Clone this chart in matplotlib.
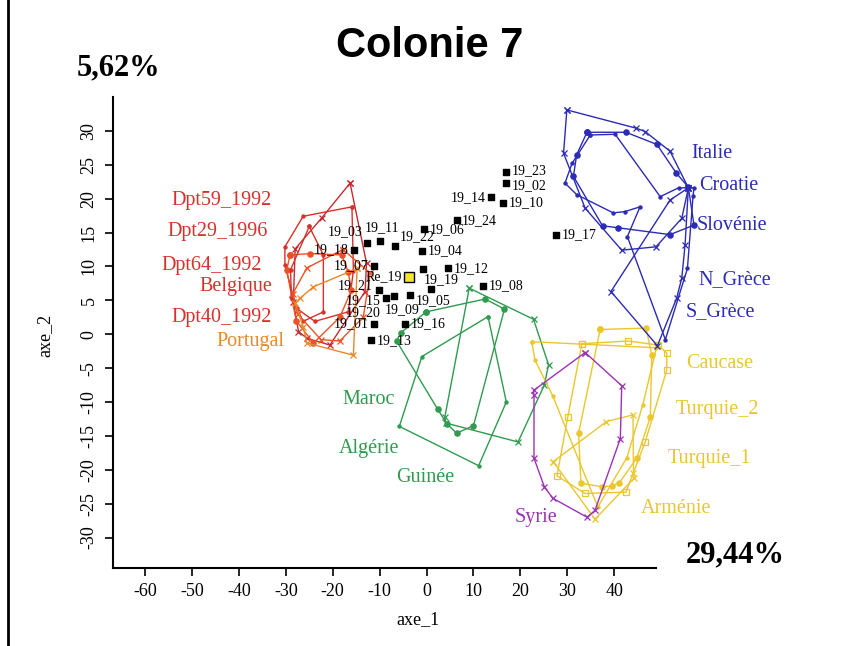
import matplotlib
matplotlib.use("Agg")
import matplotlib.pyplot as plt
from matplotlib.lines import Line2D

# ── Reference individuals (black squares) ─────────────────────────────────────
REF_NAMES = ["19_23", "19_02", "19_14", "19_10", "19_24", "19_06", "19_17",
             "19_03", "19_11", "19_22", "19_18", "19_04", "19_07", "19_19",
             "19_12", "19_08", "19_05", "19_21", "19_15", "19_20", "19_09",
             "19_16", "19_01", "19_13"]
REF_X = [16.9, 16.9, 13.7, 16.3, 6.4, -0.5, 27.6,
         -12.8, -9.9, -6.7, -15.4, -1.0, -11.2, -0.7,
         4.6, 12.0, 1.0, -10.2, -8.6, -6.9, -3.5,
         -4.6, -11.1, -11.8]
REF_Y = [23.9, 22.3, 20.2, 19.4, 16.8, 15.5, 14.7,
         13.5, 13.8, 13.0, 12.5, 12.3, 10.1, 9.6,
         9.7, 7.1, 6.6, 6.5, 5.3, 5.7, 5.8,
         1.5, 1.5, -0.9]
# where each label sits relative to its square
REF_POS = ["ru", "rd", "l", "r", "r", "r", "r",
           "ul", "a", "ur", "l", "r", "l", "br",
           "r", "r", "b", "lu", "ld", "bl2", "bl",
           "r", "l", "r"]
RE19 = (-3.7, 8.5)

# ── Population hulls (axe_1, axe_2) ───────────────────────────────────────────
DPT59 = [(-16.3, 22.3), (-12.8, 10.5), (-13.1, 6.3), (-20.6, -1.6), (-25.5, -0.6),
         (-27.3, 0.4), (-28.4, 4.8), (-28.0, 12.6), (-22.3, 17.2)]
DPT29 = [(-15.9, 18.8), (-15.6, 9.4), (-16.7, 3.3), (-23.8, 1.9), (-27.7, 3.8),
         (-30.2, 10.2), (-30.2, 12.9), (-26.3, 17.4)]
DPT64 = [(-29.1, 11.7), (-24.8, 11.9), (-18.1, 11.7), (-16.7, 9.2), (-16.0, 6.5),
         (-18.5, 2.5), (-24.1, -1.3), (-27.8, 2.0), (-29.8, 9.5)]
BELGIQUE = [(-25.0, 15.9), (-22.0, 11.7), (-22.0, 3.3), (-26.3, 1.9),
            (-28.8, 5.5), (-29.0, 9.5)]
DPT40 = [(-17.8, 12.5), (-12.0, 9.0), (-13.5, 2.5), (-18.5, -1.0), (-22.5, -0.8),
         (-27.5, 3.0), (-28.5, 6.0), (-25.5, 9.8)]
PORTUGAL = [(-14.8, 9.7), (-15.6, -3.1), (-25.5, -1.3), (-26.3, 1.1),
            (-28.0, 4.6), (-27.0, 5.3), (-24.1, 7.0)]

MAROC = [(-0.1, 3.3), (12.5, 5.2), (16.6, 3.7), (10.0, -13.5), (6.4, -14.6),
         (4.3, -13.2), (2.4, -11.1), (-6.4, -1.0), (-5.5, 0.2)]
ALGERIE = [(13.1, 2.6), (17.0, -10.0), (11.1, -19.4), (-5.8, -13.6), (-1.0, -3.3)]
GUINEE = [(9.1, 6.8), (22.8, 2.2), (26.0, -4.5), (25.1, -7.5), (19.5, -15.9),
          (4.1, -13.1), (3.9, -12.2)]

SYRIE = [(33.8, -2.7), (41.6, -7.6), (41.3, -15.4), (35.9, -26.0), (34.2, -27.0),
         (26.9, -24.2), (25.1, -22.5), (22.9, -18.3), (22.9, -9.0), (22.8, -8.3)]

CAUCASE = [(33.1, -1.4), (43.0, -1.0), (49.4, -1.6), (51.2, -2.8), (51.2, -5.3),
           (46.6, -15.9), (42.5, -23.3), (33.8, -23.5), (27.8, -20.9), (30.1, -12.2)]
TURQUIE_2 = [(37.0, 0.7), (46.8, 0.9), (48.0, -3.1), (47.7, -12.2), (44.8, -18.3),
             (41.1, -21.9), (39.5, -22.4), (37.4, -22.5), (32.9, -22.0), (32.4, -14.6)]
TURQUIE_1 = [(22.4, -1.1), (23.1, -3.8), (26.9, -9.1), (36.5, -25.5),
             (42.7, -18.2), (46.1, -10.4), (49.0, -2.0)]
ARMENIE = [(27.0, -18.8), (38.3, -12.9), (44.0, -11.9), (44.1, -20.5),
           (44.3, -21.2), (35.9, -27.3)]

ITALIE = [(29.9, 33.1), (44.7, 30.4), (46.6, 29.9), (51.9, 27.0), (55.8, 21.6),
          (54.4, 17.1), (48.9, 12.9), (41.6, 12.4), (33.8, 18.6), (29.2, 26.7)]
CROATIE = [(34.2, 29.8), (42.5, 29.8), (49.1, 28.0), (53.2, 23.8), (55.8, 21.7),
           (57.0, 16.1), (51.9, 14.7), (40.9, 15.7), (37.5, 16.0), (31.3, 23.3),
           (32.0, 26.5)]
SLOVENIE = [(34.9, 29.4), (40.2, 29.5), (49.8, 20.3), (53.7, 21.6), (57.0, 21.6),
            (56.8, 20.4), (55.6, 9.7), (50.9, -0.8), (42.8, 14.4), (45.5, 18.8),
            (42.3, 18.1), (39.8, 17.9), (32.0, 20.6), (29.5, 22.3), (31.0, 25.2)]
GRECE = [(55.8, 21.6), (55.1, 13.2), (54.4, 8.3), (53.3, 5.3), (49.2, -1.7),
         (39.3, 6.3), (51.9, 19.8)]

# ── Styles ────────────────────────────────────────────────────────────────────
RED, DRED, ORED, ORANGE = "#D8302A", "#C42A30", "#EE5025", "#E8882A"
GREEN, YELLOW, PURPLE, BLUE = "#2E9B4E", "#EBC62C", "#9B32B5", "#2B2BB5"

HULLS = [
    (DPT59, DRED, "x"), (DPT29, RED, "."), (DPT64, ORED, "o"),
    (BELGIQUE, RED, "."), (DPT40, ORED, "x"), (PORTUGAL, ORANGE, "x"),
    (MAROC, GREEN, "o"), (ALGERIE, GREEN, "."), (GUINEE, GREEN, "x"),
    (CAUCASE, YELLOW, "s"), (TURQUIE_2, YELLOW, "o"), (TURQUIE_1, YELLOW, "."),
    (ARMENIE, YELLOW, "x"), (SYRIE, PURPLE, "x"),
    (ITALIE, BLUE, "x"), (CROATIE, BLUE, "o"), (SLOVENIE, BLUE, "."), (GRECE, BLUE, "x"),
]

LABELS = [
    ("Dpt59_1992", -33.0, 19.8, RED, "right"), ("Dpt29_1996", -33.8, 15.1, RED, "right"),
    ("Dpt64_1992", -35.1, 10.1, RED, "right"), ("Belgique", -32.9, 7.1, RED, "right"),
    ("Dpt40_1992", -32.9, 2.4, RED, "right"), ("Portugal", -30.2, -1.1, ORANGE, "right"),
    ("Maroc", -12.3, -9.7, GREEN, "center"), ("Algérie", -12.3, -16.9, GREEN, "center"),
    ("Guinée", -0.3, -21.1, GREEN, "center"), ("Syrie", 23.3, -27.0, PURPLE, "center"),
    ("Arménie", 53.2, -25.7, YELLOW, "center"), ("Turquie_1", 60.2, -18.4, YELLOW, "center"),
    ("Turquie_2", 61.9, -11.1, YELLOW, "center"), ("Caucase", 62.4, -4.3, YELLOW, "center"),
    ("S_Grèce", 62.6, 3.3, BLUE, "center"), ("N_Grèce", 65.6, 8.0, BLUE, "center"),
    ("Slovénie", 65.1, 16.0, BLUE, "center"), ("Croatie", 64.5, 22.0, BLUE, "center"),
    ("Italie", 60.9, 26.6, BLUE, "center"),
]

SERIF = "Liberation Serif"
plt.rcParams.update({"font.family": SERIF, "axes.unicode_minus": False})

fig = plt.figure(figsize=(8.46, 6.46), dpi=100)
ax = fig.add_axes([0.1332, 0.1207, 0.8668, 0.7291])
ax.set_xlim(-66.9, 89.4)
ax.set_ylim(-34.5, 35.0)

for pts, col, mk in HULLS:
    xs = [p[0] for p in pts] + [pts[0][0]]
    ys = [p[1] for p in pts] + [pts[0][1]]
    ms = {"x": 4.5, ".": 4.5, "o": 3.8, "s": 4.5}[mk]
    mfc = "none" if mk == "s" else col
    ax.plot(xs, ys, color=col, lw=1.0, marker=mk, ms=ms, mfc=mfc, mew=0.9, zorder=2)

ax.scatter(REF_X, REF_Y, marker="s", s=20, color="black", zorder=4)
ax.scatter([RE19[0]], [RE19[1]], marker="s", s=55, color="#F5E62A",
           edgecolor="black", lw=1.0, zorder=4)

OFFS = {"r": (4, 0, "left", "center"), "l": (-4, 0, "right", "center"),
        "ru": (4, 1.5, "left", "center"), "rd": (4, -1.5, "left", "center"),
        "lu": (-4, 3.5, "right", "center"), "ld": (-4, -1.5, "right", "center"),
        "a": (1, 5, "center", "bottom"), "b": (1, -3, "center", "top"),
        "ul": (-3, 3, "right", "bottom"), "ur": (3, 2, "left", "bottom"),
        "br": (0, -3, "left", "top"), "bl": (-6, -6, "center", "top"),
        "bl2": (-10, -7.5, "right", "top")}
for name, x, y, pos in zip(REF_NAMES, REF_X, REF_Y, REF_POS):
    dx, dy, ha, va = OFFS[pos]
    ax.annotate(name, (x, y), xytext=(dx, dy), textcoords="offset points",
                ha=ha, va=va, fontsize=10, zorder=5)
ax.annotate("Re_19", RE19, xytext=(-5, 0), textcoords="offset points",
            ha="right", va="center", fontsize=10, zorder=5)

for txt, x, y, col, ha in LABELS:
    ax.text(x, y, txt, color=col, ha=ha, va="center", fontsize=14.5)

# ── Axes styling ──────────────────────────────────────────────────────────────
for s in ["top", "right"]:
    ax.spines[s].set_visible(False)
ax.spines["left"].set_bounds(-34.5, 35.0)
ax.spines["bottom"].set_bounds(-66.9, 48.9)
ax.spines["left"].set_linewidth(1.5)
ax.spines["bottom"].set_linewidth(1.5)
ax.set_xticks(range(-60, 41, 10))
ax.set_yticks(range(-30, 31, 5))
ax.tick_params(direction="out", length=6, width=1.2, labelsize=13, pad=5)
for lab in ax.get_yticklabels():
    lab.set_rotation(90)
    lab.set_va("center")

fig.text(45 / 846, 1 - 335 / 646, "axe_2", rotation=90, ha="center", va="center",
         fontsize=13)
fig.text(418 / 846, 1 - 620 / 646, "axe_1", ha="center", va="center", fontsize=13)
fig.text(118 / 846, 1 - 68 / 646, "5,62%", ha="center", va="center", fontsize=22,
         fontweight="bold")
fig.text(735 / 846, 1 - 555 / 646, "29,44%", ha="center", va="center", fontsize=22,
         fontweight="bold")
fig.text(430 / 846, 1 - 46 / 646, "Colonie 7", ha="center", va="center", fontsize=30,
         fontweight="bold", family="Liberation Sans")
fig.add_artist(Line2D([0.0095, 0.0095], [0, 1], color="black", lw=2))

fig.savefig("out.png", dpi=100)
